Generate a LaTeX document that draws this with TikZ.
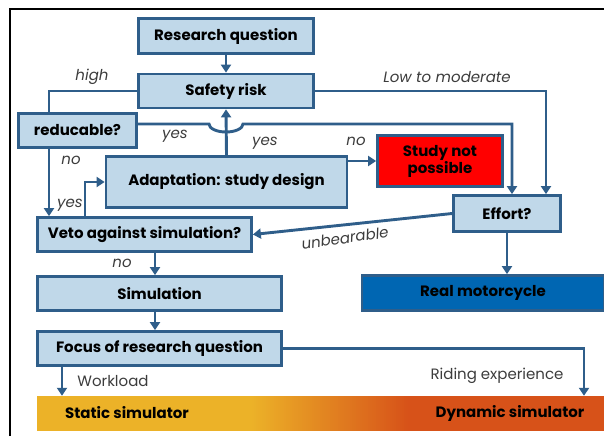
\documentclass[tikz,border=0pt]{standalone}
\usepackage{fontspec}
\setsansfont{Poppins}
\usetikzlibrary{arrows.meta}

\definecolor{flowline}{RGB}{47,94,138}
\definecolor{boxfill}{RGB}{192,216,233}
\definecolor{stopred}{RGB}{255,0,0}
\definecolor{motoblue}{RGB}{0,102,178}
\definecolor{simgold}{RGB}{236,178,40}
\definecolor{simorange}{RGB}{215,82,25}
\definecolor{labelgray}{RGB}{60,60,60}

\tikzset{
  flowbox/.style = {draw=flowline, fill=boxfill, line width=2.7pt, inner sep=0pt, align=center,
                    font=\sffamily\bfseries\fontsize{15}{17}\selectfont},
  link/.style    = {draw=flowline, line width=2.9pt},
  flow/.style    = {link, -{Triangle[length=8pt,width=10pt]}},
  choice/.style  = {font=\sffamily\itshape\fontsize{15}{17}\selectfont, text=labelgray},
  target/.style  = {font=\sffamily\fontsize{15}{17}\selectfont, text=labelgray}
}

\begin{document}
\begin{tikzpicture}[x=1pt, y=-1pt]

    \useasboundingbox (0,0) rectangle (604,436);
    \draw [line width=1.5pt] (10,436) -- (10,9) -- (604,9);

    % boxes
    \node [flowbox, minimum width=175pt, minimum height=35pt] (question) at (226,36) {Research question};
    \node [flowbox, minimum width=175pt, minimum height=34pt] (safety) at (226,91) {Safety risk};
    \node [flowbox, minimum width=118pt, minimum height=34pt] (reduc) at (77.5,130.5) {reducable?};
    \node [flowbox, minimum width=241pt, minimum height=51pt] (adapt) at (226.5,182) {Adaptation: study design};
    \node [flowbox, fill=stopred, minimum width=125pt, minimum height=51pt] (notposs) at (440,161) {Study not\\possible};
    \node [flowbox, minimum width=107pt, minimum height=36pt] (effort) at (507,213.5) {Effort?};
    \node [flowbox, minimum width=214pt, minimum height=34pt] (veto) at (144.5,234.5) {Veto against simulation?};
    \node [flowbox, minimum width=244pt, minimum height=34pt] (sim) at (159.5,293.5) {Simulation};
    \node [flowbox, minimum width=244pt, minimum height=34pt] (focus) at (159.5,348.5) {Focus of research question};
    \node [flowbox, fill=motoblue, minimum width=242pt, minimum height=35pt] (moto) at (483,293) {Real motorcycle};

    % simulator bar
    \fill [simgold] (37,396) rectangle (252,431);
    \foreach \i in {0,...,79} {
      \pgfmathsetmacro\mixpart{100-\i*100/79}
      \fill [simgold!\mixpart!simorange] (250+2*\i,396) rectangle (252.6+2*\i,431);
    }
    \fill [simorange] (410,396) rectangle (604,431);
    \node [minimum width=567pt, minimum height=35pt, inner sep=0pt] (bar) at (320.5,413.5) {};
    \node [font=\sffamily\bfseries\fontsize{15}{17}\selectfont] (static) at (127,413) {Static simulator};
    \node [font=\sffamily\bfseries\fontsize{15}{17}\selectfont] (dynamic) at (510,413) {Dynamic simulator};

    % connectors
    \draw [flow] (question) -- (safety);
    \draw [link] (safety.west) -| (49,0 |- reduc.north);
    \draw [flow] (safety.east) -| (546,0 |- effort.north);
    \draw [flow] (reduc.east |- 0,124) -- (209,124) arc (180:0:17 and 8) -- (512,124) -- (512,0 |- effort.north);
    \draw [flow] (49,0 |- reduc.south) -- (49,0 |- veto.north);
    \draw [flow] (adapt.north) -- (safety.south);
    \draw [flow] (adapt.east |- notposs.west) -- (notposs.west);
    \draw [flow] (85,0 |- veto.north) |- (adapt.west);
    \draw [flow] (effort.west) -- (veto.east);
    \draw [flow] (effort.south) -- (effort.south |- moto.north);
    \draw [flow] (155,0 |- veto.south) -- (155,0 |- sim.north);
    \draw [flow] (155,0 |- sim.south) -- (155,0 |- focus.north);
    \draw [flow] (62,0 |- focus.south) -- (62,0 |- bar.north);
    \draw [flow] (focus.east) -| (584,0 |- bar.north);

    % labels
    \node [choice] (high) at (92,77) {high};
    \node [choice] (lowmod) at (447,77) {Low to moderate};
    \node [choice] (yesred) at (175,136) {yes};
    \node [choice] (yesadapt) at (265,143) {yes};
    \node [choice] (noadapt) at (356,141) {no};
    \node [choice] (nored) at (71,160) {no};
    \node [choice] (yesveto) at (70,205) {yes};
    \node [choice, rotate=8] (unbear) at (345,238) {unbearable};
    \node [choice] (noveto) at (122,263) {no};
    \node [target] (work) at (113,381) {Workload};
    \node [target] (riding) at (497,376) {Riding experience};

\end{tikzpicture}
\end{document}
